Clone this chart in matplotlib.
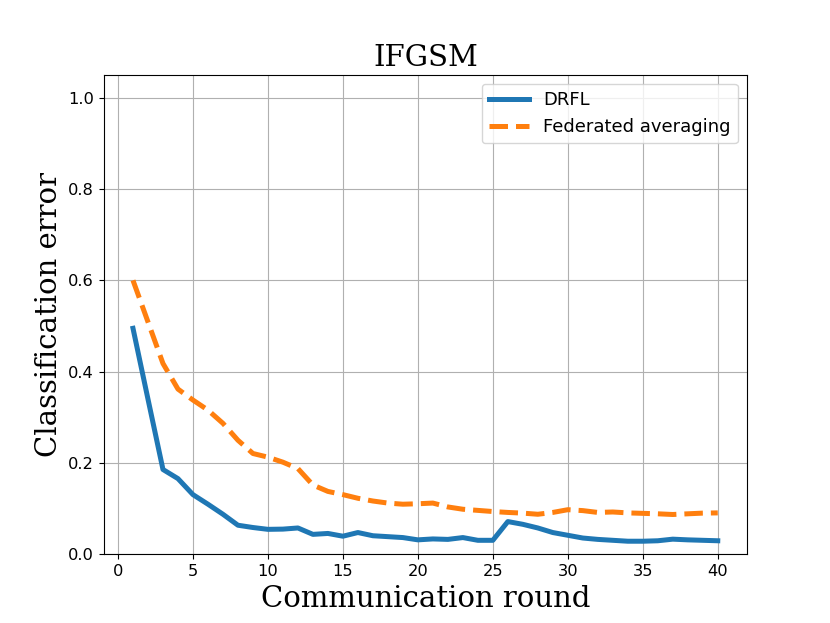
import matplotlib
matplotlib.use("Agg")
import matplotlib.pyplot as plt

# communication rounds and classification error per method
rounds = list(range(1, 41))
drfl = [0.495, 0.34, 0.186, 0.166, 0.131, 0.110, 0.088, 0.064, 0.059, 0.055,
        0.0555, 0.058, 0.044, 0.046, 0.040, 0.048, 0.041, 0.039, 0.037, 0.032,
        0.034, 0.033, 0.037, 0.031, 0.031, 0.072, 0.066, 0.058, 0.048, 0.042,
        0.036, 0.033, 0.031, 0.029, 0.029, 0.030, 0.0335, 0.032, 0.031, 0.030]
fedavg = [0.600, 0.509, 0.418, 0.362, 0.338, 0.316, 0.287, 0.250, 0.221, 0.213,
          0.202, 0.188, 0.152, 0.138, 0.131, 0.123, 0.117, 0.1125, 0.110, 0.111,
          0.1125, 0.104, 0.099, 0.0965, 0.094, 0.092, 0.0905, 0.088, 0.092, 0.098,
          0.096, 0.092, 0.093, 0.091, 0.090, 0.089, 0.0875, 0.089, 0.0905, 0.091]

fig, ax = plt.subplots(figsize=(8.3, 6.23), dpi=100)
ax.plot(rounds, drfl, lw=3.6, label="DRFL")
ax.plot(rounds, fedavg, "--", lw=3.6, label="Federated averaging")
ax.set_ylim(0, 1.05)
ax.set_xticks(range(0, 41, 5))
ax.tick_params(labelsize=11.7)
ax.grid(True)
ax.set_title("IFGSM", family="serif", fontsize=21)
ax.set_xlabel("Communication round", family="serif", fontsize=21)
ax.set_ylabel("Classification error", family="serif", fontsize=21)
ax.legend(loc="upper right", fontsize=13, handlelength=2.2)

fig.savefig("out.png")
